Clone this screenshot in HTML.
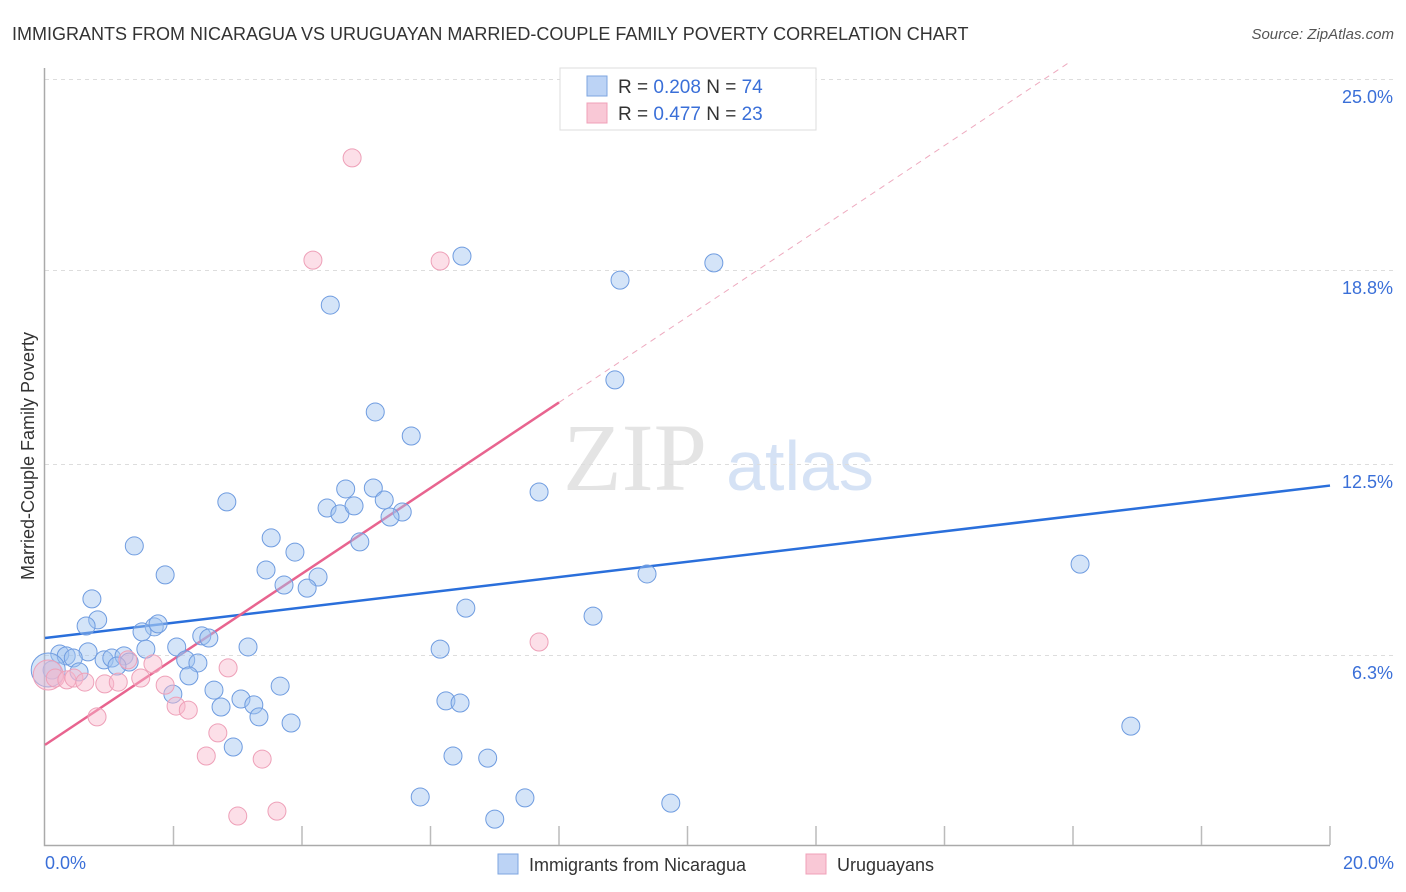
<!DOCTYPE html>
<html><head><meta charset="utf-8"><style>
body{margin:0;background:#fff;width:1406px;height:892px;overflow:hidden;font-family:"Liberation Sans",sans-serif}
svg{display:block}
</style></head><body>
<svg id="chart" width="1406" height="892">
<text x="12" y="40" font-size="18" fill="#333">IMMIGRANTS FROM NICARAGUA VS URUGUAYAN MARRIED-COUPLE FAMILY POVERTY CORRELATION CHART</text>
<text x="1394" y="39" font-size="15" fill="#555" font-style="italic" text-anchor="end">Source: ZipAtlas.com</text>
<text x="635" y="490" font-size="96" fill="#e4e4e4" font-family="Liberation Serif,serif" text-anchor="middle">ZIP</text>
<text x="800" y="490" font-size="70" fill="#d5e2f5" text-anchor="middle">atlas</text>
<g id="grid"></g><g id="axes"></g><g id="lines"></g><g id="pts"></g>
<text transform="translate(34,456) rotate(-90)" font-size="18" fill="#333" text-anchor="middle">Married-Couple Family Poverty</text>
<text x="45" y="869" font-size="18" fill="#3a6fd8">0.0%</text>
<text x="1394" y="869" font-size="18" fill="#3a6fd8" text-anchor="end">20.0%</text>
<g>
<rect x="560" y="68" width="256" height="62" fill="#fff" stroke="#ddd"/>
<rect x="587" y="76" width="20" height="20" fill="#bcd3f5" stroke="#7ea6e0"/>
<text x="618" y="93" font-size="19" fill="#333">R = <tspan fill="#3a6fd8">0.208</tspan>   N = <tspan fill="#3a6fd8">74</tspan></text>
<rect x="587" y="103" width="20" height="20" fill="#f9c8d6" stroke="#f0a0b8"/>
<text x="618" y="120" font-size="19" fill="#333">R = <tspan fill="#3a6fd8">0.477</tspan>   N = <tspan fill="#3a6fd8">23</tspan></text>
</g>
<g>
<rect x="498" y="854" width="20" height="20" fill="#bcd3f5" stroke="#7ea6e0"/>
<text x="529" y="871" font-size="18" fill="#333">Immigrants from Nicaragua</text>
<rect x="806" y="854" width="20" height="20" fill="#f9c8d6" stroke="#f0a0b8"/>
<text x="837" y="871" font-size="18" fill="#333">Uruguayans</text>
</g>
</svg>
<script>
const yTicks=[6.3,12.5,18.8,25.0];
const yTickLabels=["6.3%","12.5%","18.8%","25.0%"];
const blueX=[6.49,10.41,8.95,4.44,8.87,5.14,5.70,7.69,2.83,4.68,5.11,5.28,4.39,4.59,4.81,5.56,5.37,3.52,1.39,3.89,4.90,1.87,3.44,3.72,4.25,4.08,0.73,6.55,8.53,0.82,0.64,1.70,1.76,1.51,2.44,2.55,2.05,3.16,6.15,1.57,0.67,0.23,0.33,0.44,0.92,1.04,1.23,1.31,1.12,2.19,2.38,0.53,2.24,0.11,3.66,2.63,1.99,3.05,3.25,2.74,6.24,6.46,3.33,3.83,2.93,6.35,6.89,5.84,7.47,9.74,7.00,9.37,16.11,16.90,0.05];
const blueY=[19.25,19.03,18.47,17.66,15.23,14.19,13.41,11.59,11.27,11.69,11.72,11.33,11.07,10.88,11.14,10.94,10.78,10.10,9.84,9.64,9.97,8.90,9.06,8.57,8.83,8.47,8.12,7.82,7.56,7.44,7.24,7.21,7.31,7.05,6.92,6.85,6.56,6.56,6.49,6.49,6.40,6.33,6.27,6.20,6.14,6.20,6.27,6.07,5.94,6.14,6.04,5.75,5.62,5.81,5.29,5.16,5.03,4.87,4.68,4.61,4.81,4.74,4.29,4.09,3.31,3.02,2.95,1.69,1.66,1.49,0.97,8.93,9.25,3.99,5.81];
const pinkX=[4.78,4.17,6.15,7.69,0.05,0.16,0.34,0.45,0.62,0.93,1.14,1.29,1.49,1.68,1.87,2.04,2.23,2.85,2.69,2.51,3.38,3.00,3.61,0.81];
const pinkY=[22.44,19.12,19.09,6.72,5.65,5.55,5.49,5.55,5.42,5.36,5.42,6.14,5.55,6.01,5.32,4.64,4.51,5.88,3.77,3.02,2.92,1.07,1.23,4.29];
const blueTrend=[6.85,11.8];
const pinkTrend=[3.38,1.39];
const NS="http://www.w3.org/2000/svg";
const sx=v=>45+v*64.25, sy=v=>849-v*30.8;
function mk(tag,attrs,parent){const e=document.createElementNS(NS,tag);for(const k in attrs)e.setAttribute(k,attrs[k]);document.getElementById(parent).appendChild(e);return e;}
yTicks.forEach((t,i)=>{
 const g=mk('line',{x1:45,x2:1394,y1:sy(t)+0.5,y2:sy(t)+0.5,stroke:'#ddd','stroke-dasharray':'4,4'},'grid');
 
 
 const l=mk('text',{x:1393,y:sy(t)+24,'font-size':18,fill:'#3a6fd8','text-anchor':'end'},'grid');
 l.textContent=yTickLabels[i];
 
 
});
const ax=mk('path',{d:'M44.5 68 V845.5 H1330',stroke:'#aaa',fill:'none','stroke-width':1.5},'axes');


for(let i=1;i<=10;i++){
 const t=mk('line',{x1:sx(i*2),x2:sx(i*2),y1:826,y2:845,stroke:'#bbb','stroke-width':1.5},'axes');
 
 
}
const bl=mk('line',{x1:sx(0),y1:sy(blueTrend[0]),x2:sx(20),y2:sy(blueTrend[1]),stroke:'#2a6fdb','stroke-width':2.5},'lines');


const pAt=x=>pinkTrend[0]+pinkTrend[1]*x;
const pl=mk('line',{x1:sx(0),y1:sy(pAt(0)),x2:sx(8),y2:sy(pAt(8)),stroke:'#e8648f','stroke-width':2.5},'lines');


const xe=(25.5-pinkTrend[0])/pinkTrend[1];
const pd=mk('line',{x1:sx(8),y1:sy(pAt(8)),x2:sx(xe),y2:sy(25.5),stroke:'#eeaabf','stroke-width':1,'stroke-dasharray':'6,5'},'lines');


blueX.forEach((x,i)=>{
 const big=i===blueX.length-1;
 const c=mk('circle',{cx:sx(x),cy:sy(blueY[i]),r:big?17:9,fill:'rgba(160,195,240,0.45)',stroke:'#6f9ce0','stroke-width':1},'pts');
 
 
});
pinkX.forEach((x,i)=>{
 const big=i===4;
 const c=mk('circle',{cx:sx(x),cy:sy(pinkY[i]),r:big?15:9,fill:'rgba(248,185,205,0.45)',stroke:'#eea0b8','stroke-width':1},'pts');
 
 
});
</script>
</body></html>
